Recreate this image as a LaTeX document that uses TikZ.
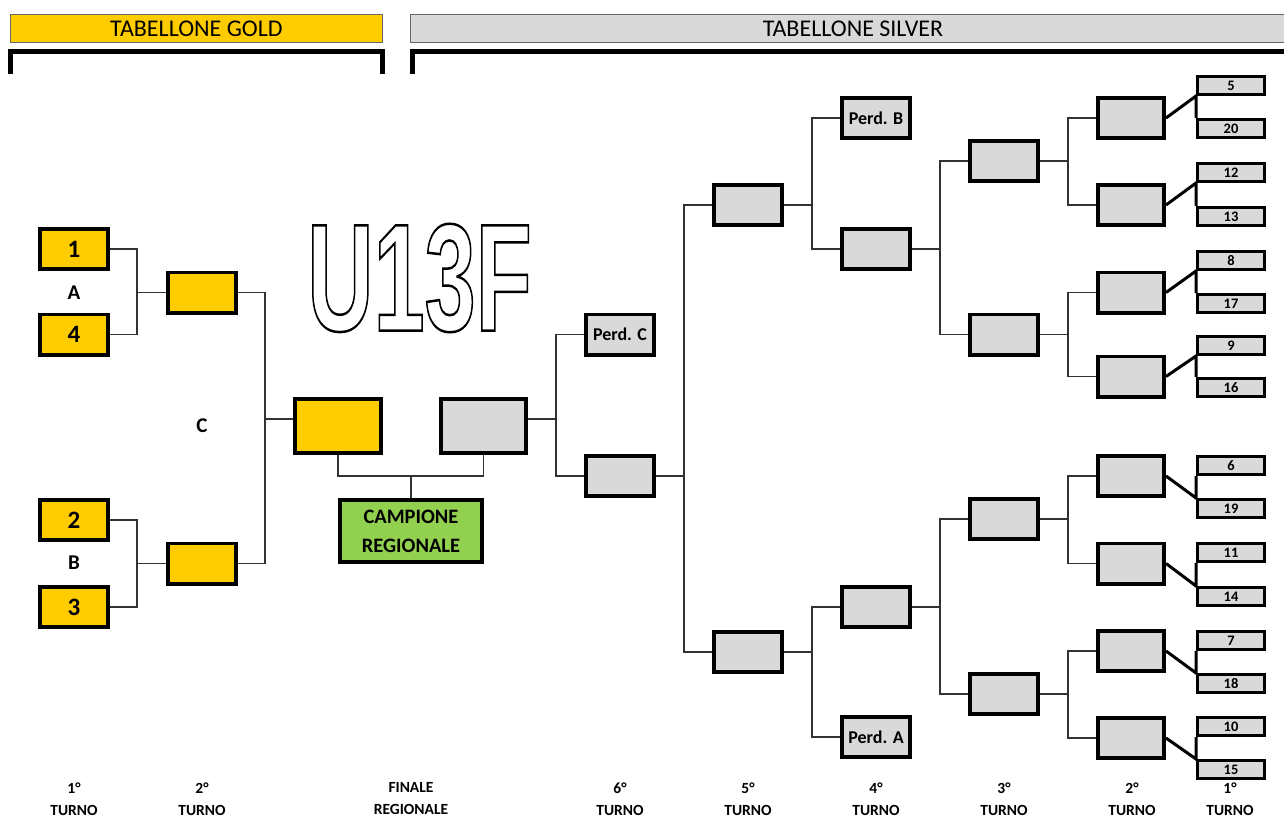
\documentclass[tikz,border=0pt]{standalone}
\usepackage{fontspec}
\setmainfont{Carlito}
\newfontfamily\bigfont{Liberation Sans}
\definecolor{gold}{HTML}{FFCC00}
\definecolor{silv}{HTML}{D9D9D9}
\definecolor{grn}{HTML}{92D050}
\newcommand\bracketjoin[3]{%
  \draw[conn] (#2.west) -- ++(-28,0) coordinate (j-#1) |- (#3.west);
  \draw[conn] (#1.east) -- (j-#1 |- #1.east);}
\begin{document}
\begin{tikzpicture}[x=1pt,y=-1pt,
  box/.style={draw=black,line width=3.8pt,inner sep=0pt,font=\bfseries},
  gbox/.style={box,fill=gold,minimum width=68.2pt,minimum height=40.2pt},
  sbox/.style={box,fill=silv,minimum width=68.2pt,minimum height=40.2pt},
  s2box/.style={box,fill=silv,minimum width=66.2pt,minimum height=40.2pt},
  rbox/.style={box,line width=3.2pt,fill=silv,minimum width=66.8pt,minimum height=17.8pt,font=\bfseries\fontsize{14.5}{14.5}\selectfont},
  perd/.style={sbox,font=\bfseries\fontsize{18}{18}\selectfont},
  numf/.style={font=\bfseries\fontsize{25}{25}\selectfont},
  lbl/.style={inner sep=0pt,font=\bfseries\fontsize{21}{21}\selectfont},
  blbl/.style={inner sep=0pt,align=center,font=\bfseries\fontsize{15.5}{22}\selectfont},
  conn/.style={line width=1.1pt,black!80},
  tconn/.style={line width=3pt,black},
  hdr/.style={draw=black!60,line width=1pt,inner sep=0pt,minimum height=28pt,font=\fontsize{24}{24}\selectfont}]
\useasboundingbox (0,0) rectangle (1284,818);

% headers
\node[hdr,fill=gold,minimum width=372pt] (hg) at (196.5,28.5) {TABELLONE GOLD};
\node[hdr,fill=silv,minimum width=885pt] (hs) at (853,28.5) {TABELLONE SILVER};
\draw[line width=5pt] (10.5,74) -- (10.5,51.5) -- (382.5,51.5) -- (382.5,74);
\draw[line width=5pt] (412.5,74) -- (412.5,51.5) -- (1296,51.5);

% U13F
\node[inner sep=0pt,xscale=0.6,transform shape,font=\bigfont\bfseries\fontsize{153}{153}\selectfont] (u13f) at (419.5,278)
  {\special{pdf:literal direct 1 Tr 2.5 w}U13F\special{pdf:literal direct 0 Tr}};

% gold bracket
\node[gbox,numf] (g1) at (74,249) {1};
\node[gbox,numf] (g4) at (74,334.5) {4};
\node[gbox,numf] (g2) at (74,520) {2};
\node[gbox,numf] (g3) at (74,607) {3};
\node[lbl] (la) at (74,293) {A};
\node[lbl] (lb) at (74,563) {B};
\node[lbl] (lc) at (202,426) {C};
\node[gbox] (g2u) at (202,292.5) {};
\node[gbox] (g2l) at (202,563.5) {};
\node[gbox,minimum width=86.2pt,minimum height=54.2pt] (fg) at (338,426) {};
\node[sbox,minimum width=85.2pt,minimum height=54.2pt] (fs) at (483.5,426) {};
\node[box,fill=grn,minimum width=142.2pt,minimum height=62.2pt,align=center,font=\bfseries\fontsize{20.5}{29}\selectfont] (camp) at (411,531) {CAMPIONE\\REGIONALE};

\draw[conn] (g1.east) -- ++(27,0) coordinate (ja) |- (g4.east);
\draw[conn] (ja |- g2u.west) -- (g2u.west);
\draw[conn] (g2.east) -- ++(27,0) coordinate (jb) |- (g3.east);
\draw[conn] (jb |- g2l.west) -- (g2l.west);
\draw[conn] (g2u.east) -- ++(27,0) coordinate (jc) |- (g2l.east);
\draw[conn] (jc |- 0,419) -- (fg.west |- 0,419);
\draw[conn] (fg.south) -- ++(0,21) -| (fs.south);
\draw[conn] (camp.north) -- (camp.north |- 0,476);

% silver bracket
\node[perd] (pc) at (620,334.5) {Perd. C};
\node[sbox] (s6) at (620,476) {};
\draw[conn] (pc.west) -- ++(-28,0) coordinate (jd) |- (s6.west);
\draw[conn] (fs.east |- 0,419) -- (jd |- 0,419);

\node[sbox] (s5u) at (748,205) {};
\node[sbox] (s5l) at (748,652) {};
\node[perd] (pb) at (876,118) {Perd. B};
\node[sbox] (s4u) at (876,249) {};
\node[sbox] (s4l) at (876,607) {};
\node[perd] (pa) at (876,737) {Perd. A};
\node[sbox] (s3a) at (1004,161) {};
\node[sbox] (s3b) at (1004,334.5) {};
\node[sbox] (s3c) at (1004,519) {};
\node[sbox] (s3d) at (1004,694) {};
\node[s2box] (s2a) at (1131,118) {};
\node[s2box] (s2b) at (1131,205) {};
\node[s2box] (s2c) at (1131,292.5) {};
\node[s2box] (s2d) at (1131,376.5) {};
\node[s2box] (s2e) at (1131,476) {};
\node[s2box] (s2f) at (1131,563.5) {};
\node[s2box] (s2g) at (1131,651) {};
\node[s2box] (s2h) at (1131,738) {};

\node[rbox] (r5) at (1231,85.5) {5};
\node[rbox] (r20) at (1231,128.5) {20};
\node[rbox] (r12) at (1231,172.5) {12};
\node[rbox] (r13) at (1231,216.5) {13};
\node[rbox] (r8) at (1231,260.5) {8};
\node[rbox] (r17) at (1231,303.5) {17};
\node[rbox] (r9) at (1231,345.5) {9};
\node[rbox] (r16) at (1231,387.5) {16};
\node[rbox] (r6) at (1231,465.5) {6};
\node[rbox] (r19) at (1231,508.5) {19};
\node[rbox] (r11) at (1231,552.5) {11};
\node[rbox] (r14) at (1231,596.5) {14};
\node[rbox] (r7) at (1231,640.5) {7};
\node[rbox] (r18) at (1231,683.5) {18};
\node[rbox] (r10) at (1231,726.5) {10};
\node[rbox] (r15) at (1231,769.5) {15};

\bracketjoin{s6}{s5u}{s5l}
\bracketjoin{s5u}{pb}{s4u}
\bracketjoin{s5l}{s4l}{pa}
\bracketjoin{s4u}{s3a}{s3b}
\bracketjoin{s4l}{s3c}{s3d}
\bracketjoin{s3a}{s2a}{s2b}
\bracketjoin{s3b}{s2c}{s2d}
\bracketjoin{s3c}{s2e}{s2f}
\bracketjoin{s3d}{s2g}{s2h}

\draw[tconn] (s2a.east) -- (r5.south west) -- (r20.north west);
\draw[tconn] (s2b.east) -- (r12.south west) -- (r13.north west);
\draw[tconn] (s2c.east) -- (r8.south west) -- (r17.north west);
\draw[tconn] (s2d.east) -- (r9.south west) -- (r16.north west);
\draw[tconn] (s2e.east) -- (r19.north west) -- (r6.south west);
\draw[tconn] (s2f.east) -- (r14.north west) -- (r11.south west);
\draw[tconn] (s2g.east) -- (r18.north west) -- (r7.south west);
\draw[tconn] (s2h.east) -- (r15.north west) -- (r10.south west);

% bottom labels
\node[blbl] (t1) at (74,799) {1°\\TURNO};
\node[blbl] (t2) at (202,799) {2°\\TURNO};
\node[blbl] (tf) at (411,799) {FINALE\\REGIONALE};
\node[blbl] (t6) at (620,799) {6°\\TURNO};
\node[blbl] (t5) at (748,799) {5°\\TURNO};
\node[blbl] (t4) at (876,799) {4°\\TURNO};
\node[blbl] (t3) at (1004,799) {3°\\TURNO};
\node[blbl] (t2s) at (1132,799) {2°\\TURNO};
\node[blbl] (t1s) at (1230,799) {1°\\TURNO};
\end{tikzpicture}
\end{document}
